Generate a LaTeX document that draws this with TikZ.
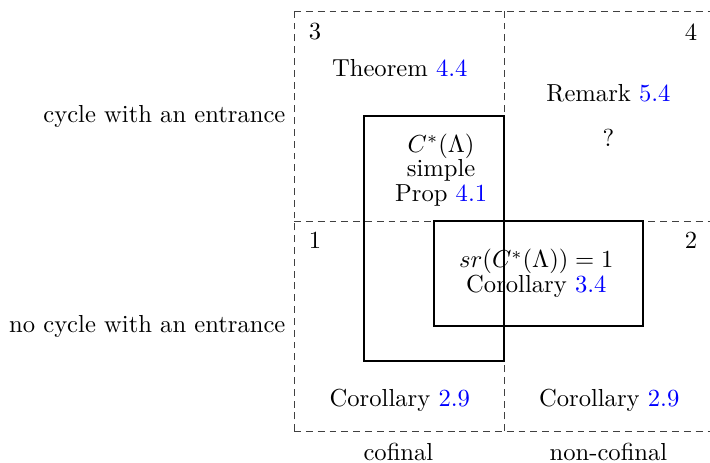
\documentclass[tikz,border=0pt]{standalone}
\usepackage{color}
\usepackage{amsfonts}
\usepackage{amssymb}
\usepackage{amsmath}
\usepackage{tikz}
\usetikzlibrary{shapes,arrows,positioning}

\begin{document}
\begin{tikzpicture}[every node/.style={align=center},
  grid/.style={dash pattern=on 2.8pt off 2pt,black!75},
  box/.style={thick}]
\useasboundingbox (-4.2,-0.443) rectangle (5.94,6.157);

\draw[grid] (0,0) -- (5.94,0);
\draw[grid] (0,3) -- (5.94,3);
\draw[grid] (0,6) -- (5.94,6);
\draw[grid] (0,0) -- (0,6);
\draw[grid] (3,0) -- (3,6);

\node (n1) at (0.3,2.72) {1};
\node (n2) at (5.67,2.72) {2};
\node (n3) at (0.3,5.7) {3};
\node (n4) at (5.67,5.7) {4};

\node (thm) at (1.51,5.19) {Theorem \textcolor{blue}{4.4}};
\node (rem) at (4.49,4.83) {Remark \textcolor{blue}{5.4}};
\node (q) at (4.49,4.19) {?};
\node (simple) at (2.1,3.73) {$C^*(\Lambda)$\\[-2pt] simple\\[-2pt] Prop \textcolor{blue}{4.1}};
\node (sr) at (3.46,2.25) {$sr(C^*(\Lambda))=1$\\[-2pt] Corollary \textcolor{blue}{3.4}};
\node (cor1) at (1.51,0.44) {Corollary \textcolor{blue}{2.9}};
\node (cor2) at (4.5,0.44) {Corollary \textcolor{blue}{2.9}};

\node (cof) at (1.49,-0.3) {cofinal};
\node (ncof) at (4.49,-0.3) {non-cofinal};
\node[anchor=east] (cyc) at (0,4.5) {cycle with an entrance};
\node[anchor=east] (ncyc) at (0,1.5) {no cycle with an entrance};

\draw[box] (1,1) rectangle (3,4.5);
\draw[box] (2,1.5) rectangle (4.98,3);
\end{tikzpicture}
\end{document}
